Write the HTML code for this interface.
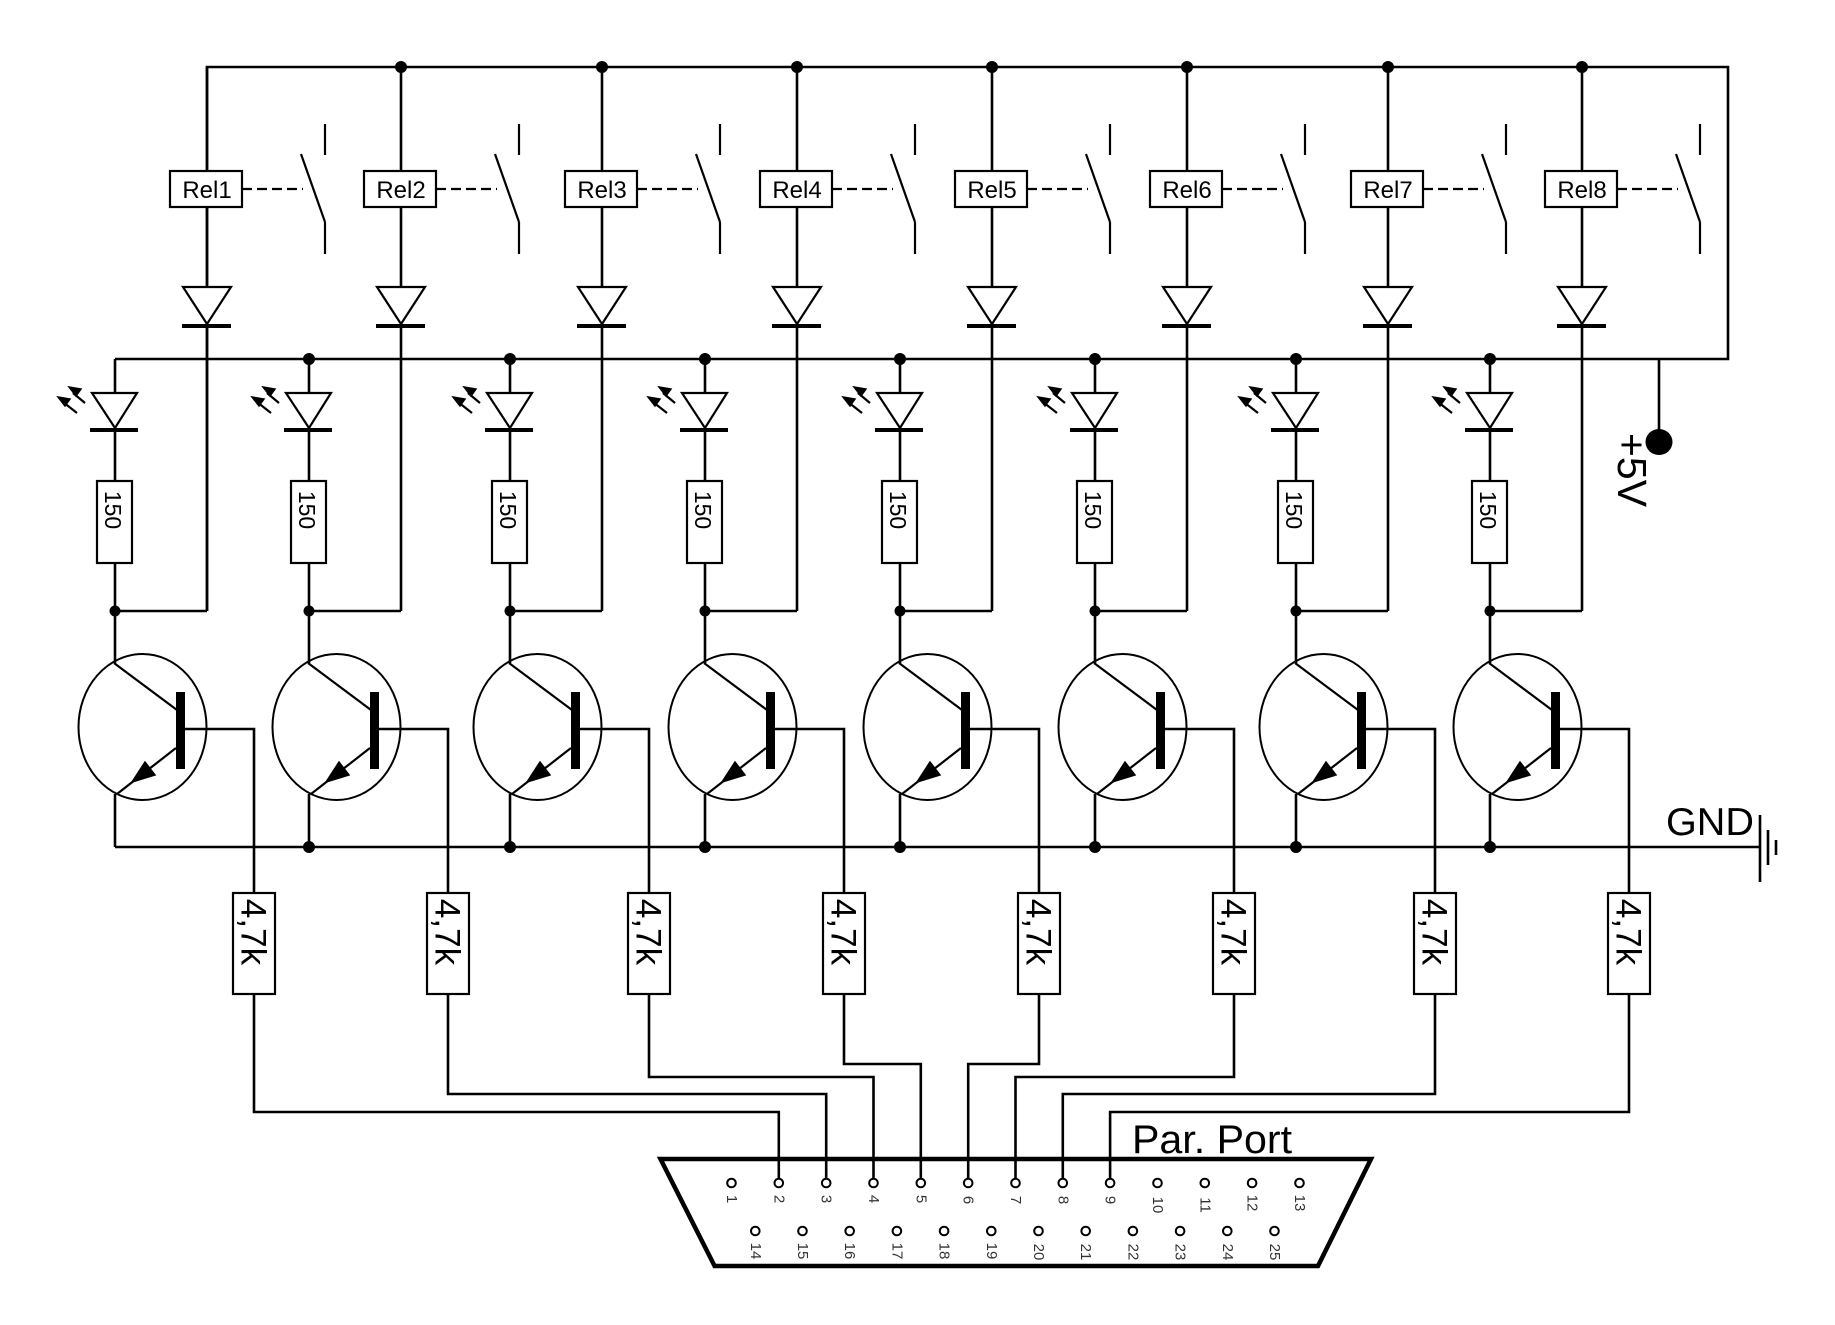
<!DOCTYPE html>
<html><head><meta charset="utf-8"><style>html,body{margin:0;padding:0;background:#fff}svg{display:block}</style></head>
<body>
<svg xmlns="http://www.w3.org/2000/svg" xmlns:xlink="http://www.w3.org/1999/xlink" width="1835" height="1325" viewBox="0 0 1835 1325">
<defs>
<g id="col" stroke="#000" stroke-width="2.6" fill="none">
  <line x1="92" y1="67" x2="92" y2="611"/>
  <rect x="55" y="171" width="72" height="36" fill="#fff" stroke-width="2.2"/>
  <line x1="127" y1="189" x2="188" y2="189" stroke-dasharray="10,5" stroke-width="2.2"/>
  <line x1="210" y1="124" x2="210" y2="155" stroke-width="2.2"/>
  <line x1="186" y1="154" x2="210" y2="222" stroke-width="2.2"/>
  <line x1="210" y1="222" x2="210" y2="254" stroke-width="2.2"/>
  <polygon points="68,287 116,287 92,324" fill="#fff" stroke-width="2.2"/>
  <line x1="67" y1="326" x2="116" y2="326" stroke-width="4"/>
  <line x1="0" y1="611" x2="92" y2="611"/>
  <line x1="0" y1="359" x2="0" y2="481"/>
  <polygon points="-23,393 22,393 0,428" fill="#fff" stroke-width="2.2"/>
  <line x1="-25" y1="430" x2="23" y2="430" stroke-width="4"/>
  <line x1="-38" y1="413" x2="-52" y2="402" stroke-width="2.2"/>
  <polygon points="-57,397 -45,399 -50,406" fill="#000" stroke-width="1.5"/>
  <line x1="-30" y1="403" x2="-42" y2="393" stroke-width="2.2"/>
  <polygon points="-46,387 -34,389 -39,396" fill="#000" stroke-width="1.5"/>
  <rect x="-18" y="481" width="35" height="82" fill="#fff" stroke-width="2.2"/>
  <line x1="0" y1="563" x2="0" y2="663"/>
  <ellipse cx="27.5" cy="727" rx="64" ry="73" stroke-width="2"/>
  <line x1="-1" y1="663" x2="62" y2="710" stroke-width="2.2"/>
  <rect x="61" y="692" width="9" height="77" fill="#000" stroke="none"/>
  <line x1="61" y1="748" x2="2" y2="794" stroke-width="2.2"/>
  <polygon points="17,782 30,762 40,775" fill="#000" stroke-width="1.5"/>
  <line x1="0" y1="794" x2="0" y2="847"/>
  <polyline points="70,729 139,729 139,893"/>
  <rect x="118" y="893" width="42" height="101" fill="#fff" stroke-width="2.2"/>
  <circle cx="0" cy="611" r="5.5" fill="#000" stroke="none"/>
</g>
<g id="dots" fill="#000">
  <circle cx="92" cy="67" r="6"/>
  <circle cx="0" cy="359" r="6"/>
  <circle cx="0" cy="847" r="6"/>
</g>
</defs>

<g stroke="#000" stroke-width="2.6" fill="none">
  <polyline points="207,611 207,67 1728,67 1728,359 115,359"/>
  <line x1="115" y1="847" x2="1760" y2="847"/>
  <line x1="1659" y1="359" x2="1659" y2="440"/>
  <line x1="1760" y1="815" x2="1760" y2="882"/>
  <line x1="1768" y1="830" x2="1768" y2="865"/>
  <line x1="1776" y1="840" x2="1776" y2="855"/>
</g>
<ellipse cx="1659" cy="442" rx="13.5" ry="13" fill="#000"/>

<use xlink:href="#col" transform="translate(115,0)"/>
<use xlink:href="#col" transform="translate(309,0)"/>
<use xlink:href="#col" transform="translate(510,0)"/>
<use xlink:href="#col" transform="translate(705,0)"/>
<use xlink:href="#col" transform="translate(900,0)"/>
<use xlink:href="#col" transform="translate(1095,0)"/>
<use xlink:href="#col" transform="translate(1296,0)"/>
<use xlink:href="#col" transform="translate(1490,0)"/>
<use xlink:href="#dots" transform="translate(309,0)"/>
<use xlink:href="#dots" transform="translate(510,0)"/>
<use xlink:href="#dots" transform="translate(705,0)"/>
<use xlink:href="#dots" transform="translate(900,0)"/>
<use xlink:href="#dots" transform="translate(1095,0)"/>
<use xlink:href="#dots" transform="translate(1296,0)"/>
<use xlink:href="#dots" transform="translate(1490,0)"/>

<g stroke="#000" stroke-width="2.6" fill="none">
  <polyline points="254,994 254,1112 778.8,1112 778.8,1179"/>
  <polyline points="448,994 448,1094 826.2,1094 826.2,1179"/>
  <polyline points="649,994 649,1077 873.5,1077 873.5,1179"/>
  <polyline points="844,994 844,1064 920.8,1064 920.8,1179"/>
  <polyline points="1039,994 1039,1064 968.2,1064 968.2,1179"/>
  <polyline points="1234,994 1234,1077 1015.5,1077 1015.5,1179"/>
  <polyline points="1435,994 1435,1094 1062.8,1094 1062.8,1179"/>
  <polyline points="1629,994 1629,1112 1110.1,1112 1110.1,1179"/>
  <polygon points="660.5,1159 1371,1159 1318,1266 714.6,1266" stroke-width="4.5"/>
</g>
<g stroke="#000" stroke-width="2" fill="#fff">
  <circle cx="731.5" cy="1183" r="4.3"/><circle cx="778.8" cy="1183" r="4.3"/><circle cx="826.2" cy="1183" r="4.3"/><circle cx="873.5" cy="1183" r="4.3"/><circle cx="920.8" cy="1183" r="4.3"/><circle cx="968.2" cy="1183" r="4.3"/><circle cx="1015.5" cy="1183" r="4.3"/><circle cx="1062.8" cy="1183" r="4.3"/><circle cx="1110.1" cy="1183" r="4.3"/><circle cx="1157.5" cy="1183" r="4.3"/><circle cx="1204.8" cy="1183" r="4.3"/><circle cx="1252.1" cy="1183" r="4.3"/><circle cx="1299.5" cy="1183" r="4.3"/>
  <circle cx="755.3" cy="1231" r="4.3"/><circle cx="802.5" cy="1231" r="4.3"/><circle cx="849.7" cy="1231" r="4.3"/><circle cx="896.9" cy="1231" r="4.3"/><circle cx="944.1" cy="1231" r="4.3"/><circle cx="991.3" cy="1231" r="4.3"/><circle cx="1038.5" cy="1231" r="4.3"/><circle cx="1085.7" cy="1231" r="4.3"/><circle cx="1132.9" cy="1231" r="4.3"/><circle cx="1180.1" cy="1231" r="4.3"/><circle cx="1227.3" cy="1231" r="4.3"/><circle cx="1274.5" cy="1231" r="4.3"/>
</g>

<g style="font-family:'Liberation Sans', sans-serif" fill="#000">
  <g font-size="24" text-anchor="middle">
    <text x="207" y="198">Rel1</text><text x="401" y="198">Rel2</text><text x="602" y="198">Rel3</text><text x="797" y="198">Rel4</text><text x="992" y="198">Rel5</text><text x="1187" y="198">Rel6</text><text x="1388" y="198">Rel7</text><text x="1582" y="198">Rel8</text>
  </g>
  <g font-size="23" text-anchor="middle" dominant-baseline="central">
    <text transform="translate(113,510) rotate(90)">150</text>
    <text transform="translate(307,510) rotate(90)">150</text>
    <text transform="translate(508,510) rotate(90)">150</text>
    <text transform="translate(703,510) rotate(90)">150</text>
    <text transform="translate(898,510) rotate(90)">150</text>
    <text transform="translate(1093,510) rotate(90)">150</text>
    <text transform="translate(1294,510) rotate(90)">150</text>
    <text transform="translate(1488,510) rotate(90)">150</text>
  </g>
  <g font-size="35" text-anchor="middle" dominant-baseline="central">
    <text transform="translate(253,932) rotate(90)">4,7k</text>
    <text transform="translate(447,932) rotate(90)">4,7k</text>
    <text transform="translate(648,932) rotate(90)">4,7k</text>
    <text transform="translate(843,932) rotate(90)">4,7k</text>
    <text transform="translate(1038,932) rotate(90)">4,7k</text>
    <text transform="translate(1233,932) rotate(90)">4,7k</text>
    <text transform="translate(1434,932) rotate(90)">4,7k</text>
    <text transform="translate(1628,932) rotate(90)">4,7k</text>
  </g>
  <text transform="translate(1632,470) rotate(90)" font-size="41" text-anchor="middle" dominant-baseline="central">+5V</text>
  <text x="1666" y="835" font-size="39" textLength="88" lengthAdjust="spacingAndGlyphs">GND</text>
  <text x="1132" y="1153" font-size="40" textLength="160" lengthAdjust="spacingAndGlyphs">Par. Port</text>
  <g font-size="15" fill="#333" text-anchor="middle" dominant-baseline="central">
    <text transform="translate(731.5,1199) rotate(90)">1</text>
    <text transform="translate(778.8,1199) rotate(90)">2</text>
    <text transform="translate(826.2,1199) rotate(90)">3</text>
    <text transform="translate(873.5,1199) rotate(90)">4</text>
    <text transform="translate(920.8,1199) rotate(90)">5</text>
    <text transform="translate(968.2,1200) rotate(90)">6</text>
    <text transform="translate(1015.5,1200) rotate(90)">7</text>
    <text transform="translate(1062.8,1200) rotate(90)">8</text>
    <text transform="translate(1110.1,1200) rotate(90)">9</text>
    <text transform="translate(1157.5,1205) rotate(90)">10</text>
    <text transform="translate(1204.8,1205) rotate(90)">11</text>
    <text transform="translate(1252.1,1203) rotate(90)">12</text>
    <text transform="translate(1299.5,1203) rotate(90)">13</text>
    <text transform="translate(755.3,1251) rotate(90)">14</text>
    <text transform="translate(802.5,1251) rotate(90)">15</text>
    <text transform="translate(849.7,1251) rotate(90)">16</text>
    <text transform="translate(896.9,1251) rotate(90)">17</text>
    <text transform="translate(944.1,1251) rotate(90)">18</text>
    <text transform="translate(991.3,1251) rotate(90)">19</text>
    <text transform="translate(1038.5,1252) rotate(90)">20</text>
    <text transform="translate(1085.7,1252) rotate(90)">21</text>
    <text transform="translate(1132.9,1252) rotate(90)">22</text>
    <text transform="translate(1180.1,1252) rotate(90)">23</text>
    <text transform="translate(1227.3,1252) rotate(90)">24</text>
    <text transform="translate(1274.5,1252) rotate(90)">25</text>
  </g>
</g>
</svg>
</body></html>
